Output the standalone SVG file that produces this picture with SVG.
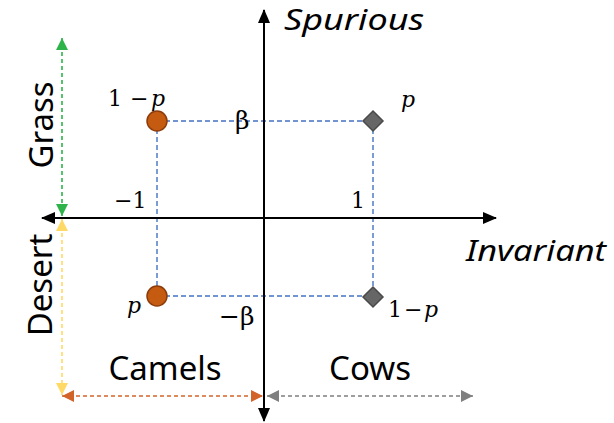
<svg xmlns="http://www.w3.org/2000/svg" width="614" height="423" viewBox="0 0 614 423">
<style>
.axis{stroke:#000;stroke-width:2;fill:none}
.guide{stroke:#4472C4;stroke-width:1.4;stroke-dasharray:5 3;fill:none}
.rng{stroke-width:1.6;stroke-dasharray:4 3;fill:none}
.lbl{font-family:"Noto Sans","Open Sans",sans-serif;font-size:33px;fill:#000}
.ax{font-family:"Noto Sans","Open Sans",sans-serif;font-style:italic;font-size:29px;fill:#000}
.m{font-family:"DejaVu Serif","Liberation Serif",serif;font-size:22px;fill:#000}
.mi{font-style:italic}
.b{font-size:25px}
.camel{fill:#C55A11;stroke:#8C3B0B;stroke-width:1.5}
.cow{fill:#666;stroke:#4a4a4a;stroke-width:1.5}
</style>
<defs>
<marker id="ak" markerUnits="userSpaceOnUse" markerWidth="14" markerHeight="12" refX="13" refY="6" orient="auto-start-reverse"><path d="M0,0 L14,6 L0,12 Z" fill="#000"/></marker>
<marker id="ag" markerUnits="userSpaceOnUse" markerWidth="12" markerHeight="12" refX="12" refY="6" orient="auto-start-reverse"><path d="M0,0 L12,6 L0,12 Z" fill="#2DB34A"/></marker>
<marker id="ay" markerUnits="userSpaceOnUse" markerWidth="12" markerHeight="12" refX="12" refY="6" orient="auto-start-reverse"><path d="M0,0 L12,6 L0,12 Z" fill="#FFD966"/></marker>
<marker id="ao" markerUnits="userSpaceOnUse" markerWidth="12" markerHeight="12" refX="12" refY="6" orient="auto-start-reverse"><path d="M0,0 L12,6 L0,12 Z" fill="#D2642A"/></marker>
<marker id="ay2" markerUnits="userSpaceOnUse" markerWidth="12" markerHeight="12" refX="12" refY="6" orient="auto-start-reverse"><path d="M0,0 L12,6 L0,12 Z" fill="#7F7F7F"/></marker>
</defs>
<rect width="614" height="423" fill="#fff"/>
<g id="connectors">
<line class="guide" x1="157" y1="121" x2="373" y2="121"/>
<line class="guide" x1="157" y1="296" x2="373" y2="296"/>
<line class="guide" x1="157" y1="121" x2="157" y2="296"/>
<line class="guide" x1="373" y1="121" x2="373" y2="296"/>
<line class="axis" x1="264" y1="421" x2="264" y2="10" marker-start="url(#ak)" marker-end="url(#ak)"/>
<line class="axis" x1="42" y1="218" x2="496" y2="218" marker-start="url(#ak)" marker-end="url(#ak)"/>
<line class="rng" stroke="#2DB34A" x1="62" y1="38" x2="62" y2="216" marker-start="url(#ag)" marker-end="url(#ag)"/>
<line class="rng" stroke="#FFD966" x1="62" y1="219" x2="62" y2="395" marker-start="url(#ay)" marker-end="url(#ay)"/>
<line class="rng" stroke="#D2642A" x1="62" y1="396" x2="263" y2="396" marker-start="url(#ao)" marker-end="url(#ao)"/>
<line class="rng" stroke="#7F7F7F" x1="267" y1="396" x2="473" y2="396" marker-start="url(#ay2)" marker-end="url(#ay2)"/>
</g>
<g id="camel-grass"><circle class="camel" cx="157" cy="121" r="10"/></g>
<g id="camel-desert"><circle class="camel" cx="157" cy="296" r="10"/></g>
<g id="cow-grass"><path class="cow" d="M373,111 L383,121 L373,131 L363,121 Z"/></g>
<g id="cow-desert"><path class="cow" d="M373,287 L383,297 L373,307 L363,297 Z"/></g>
<g id="labels">
<text class="ax" x="284" y="30" textLength="140" lengthAdjust="spacingAndGlyphs">Spurious</text>
<text class="ax" x="466" y="261" textLength="140" lengthAdjust="spacingAndGlyphs">Invariant</text>
<text class="lbl" x="165" y="380" text-anchor="middle">Camels</text>
<text class="lbl" x="370" y="380" text-anchor="middle">Cows</text>
<text class="lbl" transform="translate(53,125) rotate(-90)" text-anchor="middle">Grass</text>
<text class="lbl" transform="translate(52,285) rotate(-90)" text-anchor="middle">Desert</text>
<text class="m" x="108" y="106">1</text><text class="m" x="130" y="106">−</text><text class="m mi" x="151" y="106">p</text>
<text class="m" x="388" y="317">1</text><text class="m" x="404" y="317">−</text><text class="m mi" x="424" y="317">p</text>
<text class="m mi" x="401" y="107">p</text>
<text class="m mi" x="127" y="313">p</text>
<text class="m b" x="235" y="129">β</text>
<text class="m b" x="219" y="325">−β</text>
<text class="m" x="114" y="208">−1</text>
<text class="m" x="351" y="208">1</text>
</g>
</svg>
